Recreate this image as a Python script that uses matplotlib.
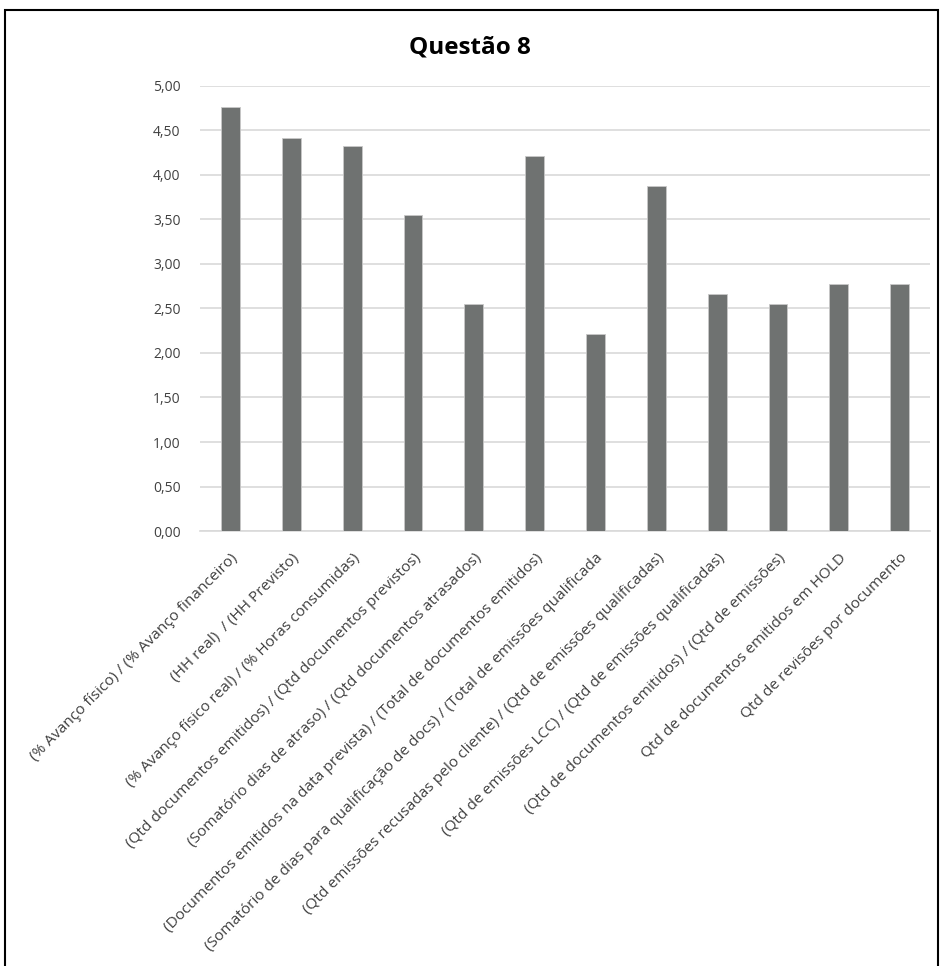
import matplotlib.pyplot as plt
from matplotlib.patches import Rectangle
from matplotlib.ticker import FuncFormatter

labels = [
    "(% Avanço físico) / (% Avanço financeiro)",
    "(HH real)  / (HH Previsto)",
    "(% Avanço físico real) / (% Horas consumidas)",
    "(Qtd documentos emitidos) / (Qtd documentos previstos)",
    "(Somatório dias de atraso) / (Qtd documentos atrasados)",
    "(Documentos emitidos na data prevista) / (Total de documentos emitidos)",
    "(Somatório de dias para qualificação de docs) / (Total de emissões qualificada",
    "(Qtd emissões recusadas pelo cliente) / (Qtd de emissões qualificadas)",
    "(Qtd de emissões LCC) / (Qtd de emissões qualificadas)",
    "(Qtd de documentos emitidos) / (Qtd de emissões)",
    "Qtd de documentos emitidos em HOLD",
    "Qtd de revisões por documento",
]
values = [4.76, 4.42, 4.32, 3.55, 2.55, 4.21, 2.21, 3.88, 2.66, 2.55, 2.78, 2.78]
yticks = [0, 0.5, 1, 1.5, 2, 2.5, 3, 3.5, 4, 4.5, 5]

plt.rcParams['font.family'] = ['Open Sans', 'DejaVu Sans']

fig = plt.figure(figsize=(9.4, 9.66), dpi=100)
ax = fig.add_axes([0.2128, 0.4503, 0.7766, 0.4607])

x = range(len(values))
ax.bar(x, values, width=0.31, color='#6f7271', edgecolor='#c8c8c8', linewidth=0.6, zorder=3)

ax.set_xlim(-0.5, len(values) - 0.5)
ax.set_ylim(0, 5)
ax.set_yticks(yticks)
ax.yaxis.set_major_formatter(FuncFormatter(lambda v, p: f"{v:.2f}".replace('.', ',')))
ax.grid(axis='y', color='#d9d9d9', linewidth=1.2, zorder=0)
for s in ['top', 'right', 'left']:
    ax.spines[s].set_visible(False)
ax.spines['bottom'].set_color('#d9d9d9')
ax.spines['bottom'].set_linewidth(1.2)
ax.tick_params(axis='both', length=0, colors='#404040')
ax.tick_params(axis='y', pad=14, labelsize=10)

ax.set_xticks(list(x))
ax.set_xticklabels(labels, rotation=45, ha='right', rotation_mode='anchor', fontsize=11.1)
ax.tick_params(axis='x', pad=14)

fig.text(0.5, 0.951, "Questão 8", ha='center', va='center', fontsize=17.5, fontweight='bold', color='#000000')

fig.patches.append(Rectangle((5 / 940, -0.01), 933 / 940, 1 - 10 / 966 + 0.01,
                             transform=fig.transFigure, fill=False,
                             edgecolor='black', linewidth=1.5))

fig.savefig('out.png', dpi=100)
